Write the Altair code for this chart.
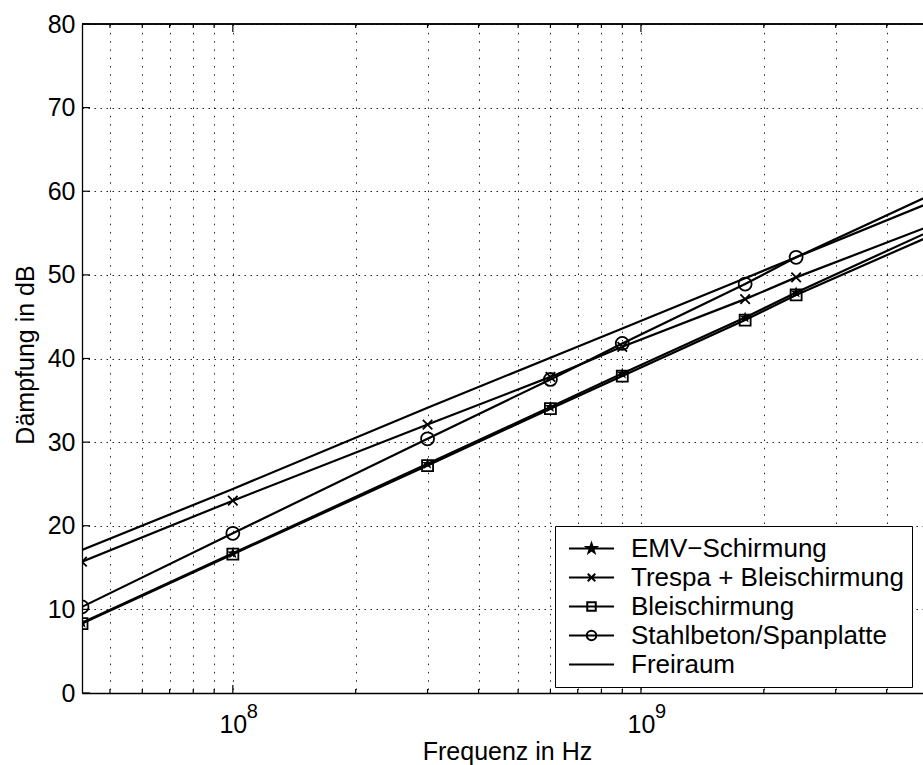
import math
import altair as alt
import pandas as pd

# ---------------- data ----------------
freq_hz = [42.7e6, 100e6, 300e6, 600e6, 900e6, 1.8e9, 2.4e9, 5.2e9]
series_names = ["EMV−Schirmung", "Trespa + Bleischirmung", "Bleischirmung",
                "Stahlbeton/Spanplatte", "Freiraum"]
emv_db = [8.4, 16.7, 27.4, 34.2, 38.2, 44.9, 47.9, 55.4]
trespa_db = [15.7, 23.0, 32.1, 37.8, 41.4, 47.1, 49.7, 56.0]
blei_db = [8.3, 16.6, 27.2, 34.0, 37.9, 44.6, 47.6, 54.8]
stahl_db = [10.3, 19.1, 30.4, 37.5, 41.8, 48.9, 52.1, 59.7]
frei_db = [17.1, 24.4, 34.1, 40.1, 43.6, 49.6, 52.1, 58.8]

x_grid = [5e7, 6e7, 7e7, 8e7, 9e7, 1e8, 2e8, 3e8, 4e8, 5e8, 6e8, 7e8, 8e8, 9e8,
          1e9, 2e9, 3e9, 4e9]
x_major = [1e8, 1e9]
x_minor = [v for v in x_grid if v not in x_major]
exponents = ["8", "9"]
y_ticks = [0, 10, 20, 30, 40, 50, 60, 70, 80]
x_domain = [42.7e6, 4.91e9]
y_domain = [0, 80]

rows = []
for name, vals in zip(series_names, [emv_db, trespa_db, blei_db, stahl_db, frei_db]):
    for f, v in zip(freq_hz, vals):
        rows.append({"freq": f, "db": v, "series": name})
df = pd.DataFrame(rows)

W, H = 841, 669
FONT = "Liberation Sans"


# ---------------- symbol paths ----------------
def star(cx, R, r):
    pts = []
    for k in range(10):
        a = -math.pi / 2 + k * math.pi / 5
        rad = R if k % 2 == 0 else r
        pts.append(f"{cx + rad * math.cos(a):.4f},{rad * math.sin(a):.4f}")
    return "M" + "L".join(pts) + "Z"


def xmark(cx, h):
    return f"M{cx-h:.4f},{-h:.4f}L{cx+h:.4f},{h:.4f}M{cx-h:.4f},{h:.4f}L{cx+h:.4f},{-h:.4f}"


def square(cx, h):
    return f"M{cx-h:.4f},{-h:.4f}H{cx+h:.4f}V{h:.4f}H{cx-h:.4f}Z"


def circle(cx, r):
    return f"M{cx+r:.4f},0A{r},{r} 0 1,1 {cx-r:.4f},0A{r},{r} 0 1,1 {cx+r:.4f},0"


mc = 0.1
seg = "M-0.8,0L1,0"
legend_paths = [
    seg + star(mc, 0.2, 0.08) + star(mc, 0.1, 0.04),
    seg + xmark(mc, 0.15),
    seg + square(mc, 0.17),
    seg + circle(mc, 0.19),
    seg,
]

# ---------------- shared encodings ----------------
x_scale = alt.Scale(type="log", domain=x_domain, nice=False)
y_scale = alt.Scale(domain=y_domain, nice=False, zero=False)

x_axis = alt.Axis(
    values=x_grid,
    labelExpr="datum.value == 100000000 || datum.value == 1000000000 ? '10' : ''",
    grid=True, gridDash=[1.5, 6.8], gridColor="#000", gridOpacity=0.85, gridWidth=1,
    ticks=False, tickSize=0, domainColor="#000", domainWidth=1.3,
    labelFont=FONT, labelFontSize=25, labelColor="#000", labelPadding=19,
    labelFlush=False, labelOverlap=False,
    title="Frequenz in Hz", titleFont=FONT, titleFontSize=25, titleFontWeight="normal",
    titleColor="#000", titleX=425, titleY=46, titleAlign="center", titleBaseline="top",
)
y_axis = alt.Axis(
    values=y_ticks,
    grid=True, gridDash=[1.5, 4.5], gridColor="#000", gridOpacity=0.85, gridWidth=1,
    ticks=False, tickSize=0, domainColor="#000", domainWidth=1.3,
    labelFont=FONT, labelFontSize=25, labelColor="#000", labelPadding=7,
    title="Dämpfung in dB", titleFont=FONT, titleFontSize=25, titleFontWeight="normal",
    titleColor="#000", titleX=-49, titleY=H / 2 - 4, titleAngle=270,
    titleAlign="center", titleBaseline="alphabetic",
)


def X(field):
    return alt.X(f"{field}:Q", scale=x_scale, axis=x_axis, title="Frequenz in Hz")


def Y(field):
    return alt.Y(f"{field}:Q", scale=y_scale, axis=y_axis, title="Dämpfung in dB")


base = alt.Chart(df)

lines = base.mark_line(color="black", strokeWidth=2.2, clip=True).encode(
    x=X("freq"), y=Y("db"), detail="series:N"
)

marker_layers = []
marker_specs = [
    (series_names[0], star(0, 1, 0.4), True, 150),
    (series_names[2], "square", False, 121),
    (series_names[1], xmark(0, 1), False, 90),
    (series_names[3], "circle", False, 169),
]
for name, shp, filled, size in marker_specs:
    marker_layers.append(
        base.transform_filter(alt.datum.series == name)
        .mark_point(shape=shp, filled=filled, color="black", size=size,
                    strokeWidth=1.8, opacity=1, clip=True)
        .encode(x=X("freq"), y=Y("db"))
    )

legend_layer = base.mark_point(filled=False, color="black", strokeWidth=2,
                               opacity=0, clip=True).encode(
    x=X("freq"), y=Y("db"),
    shape=alt.Shape(
        "series:N",
        scale=alt.Scale(domain=series_names, range=legend_paths),
        legend=alt.Legend(
            title=None, orient="none", legendX=473, legendY=502,
            padding=8, rowPadding=0, clipHeight=29,
            fillColor="white", strokeColor="black", cornerRadius=0,
            labelFont=FONT, labelFontSize=26, labelColor="black", labelLimit=600,
            labelOffset=16, symbolSize=2500, symbolStrokeWidth=2,
            symbolStrokeColor="black", symbolFillColor="transparent", symbolOpacity=1,
        ),
    ),
)

# inward tick marks (MATLAB style)
ticks_major = pd.DataFrame({"t": x_major})
ticks_minor = pd.DataFrame({"t": x_minor})
yt = pd.DataFrame({"v": y_ticks})

tick_layers = [
    alt.Chart(ticks_major).mark_rule(color="black", strokeWidth=1.2).encode(
        x=X("t"), y=alt.value(H), y2=alt.value(H - 8)),
    alt.Chart(ticks_minor).mark_rule(color="black", strokeWidth=1.2).encode(
        x=X("t"), y=alt.value(H), y2=alt.value(H - 4)),
    alt.Chart(ticks_major).mark_rule(color="black", strokeWidth=1.2).encode(
        x=X("t"), y=alt.value(0), y2=alt.value(8)),
    alt.Chart(ticks_minor).mark_rule(color="black", strokeWidth=1.2).encode(
        x=X("t"), y=alt.value(0), y2=alt.value(4)),
    alt.Chart(yt).mark_rule(color="black", strokeWidth=1.2).encode(
        y=Y("v"), x=alt.value(0), x2=alt.value(8)),
]

top_border = alt.Chart(ticks_major).mark_rule(color="black", strokeWidth=1.3).encode(
    x=alt.value(0), x2=alt.value(W), y=alt.value(0)
)

exp_df = pd.DataFrame({"dec": x_major, "exp": exponents})
exp_text = alt.Chart(exp_df).mark_text(
    align="left", baseline="top", fontSize=20, font=FONT, color="black", dx=14
).encode(x=X("dec"), y=alt.value(677.5), text="exp:N")

chart = alt.layer(
    lines, *marker_layers, *tick_layers, top_border, exp_text, legend_layer
).properties(
    width=W, height=H,
    autosize=alt.AutoSizeParams(type="none"),
    padding={"left": 82, "top": 24, "right": 0, "bottom": 72},
    background="white",
).configure_view(stroke=None)

chart.save("out.html", embed_options={"renderer": "svg", "actions": False})
